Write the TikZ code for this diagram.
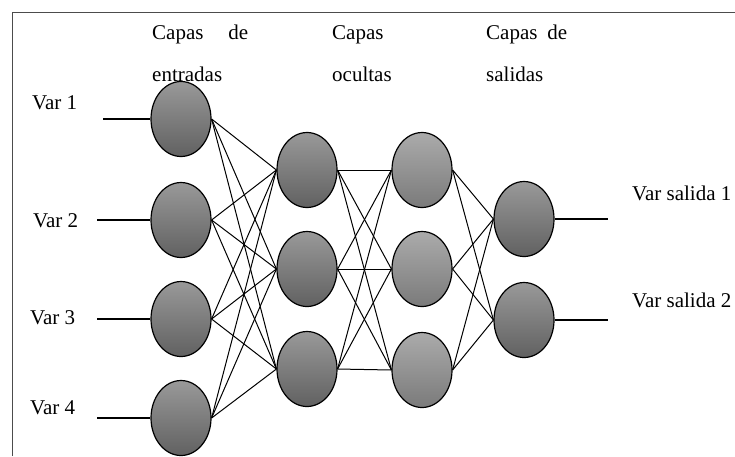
\documentclass[tikz,border=0pt]{standalone}
\usepackage{fontspec}
\setmainfont{Liberation Serif}
\usepackage{tikz}
\usetikzlibrary{shapes.geometric,positioning}

\begin{document}
\begin{tikzpicture}[x=1pt, y=-1pt,
    neuron/.style={draw, ellipse, line width=1.2pt, minimum width=60pt, minimum height=75pt, inner sep=0pt, top color=black!40, bottom color=black!62},
    neuronlight/.style={neuron, top color=black!33, bottom color=black!52},
    varlabel/.style={anchor=west, inner sep=0pt, font=\fontsize{21}{24}\selectfont},
    layerlabel/.style={anchor=north west, inner sep=0pt, align=left, font=\fontsize{21}{42}\selectfont},
    link/.style={line width=1pt},
    stub/.style={line width=1.8pt}]
    \useasboundingbox (0,0) rectangle (735,456);
    \draw[black!70, line width=0.8pt] (12,456) -- (12,12) -- (735,12);

    % layer headings
    \node[layerlabel] (hin) at (152,25) {\makebox[96pt][s]{Capas de}\\entradas};
    \node[layerlabel] (hhid) at (332,25) {Capas\\ocultas};
    \node[layerlabel] (hout) at (486,25) {\makebox[81pt][s]{Capas de}\\salidas};

    % input layer
    \node[neuron] (in1) at (181,119) {};
    \node[neuron] (in2) at (181,220) {};
    \node[neuron] (in3) at (181,319) {};
    \node[neuron] (in4) at (181,418) {};

    % hidden layers
    \node[neuron] (ha1) at (307,170) {};
    \node[neuron] (ha2) at (307,269) {};
    \node[neuron] (ha3) at (307,369) {};
    \node[neuronlight] (hb1) at (422,170) {};
    \node[neuronlight] (hb2) at (422,269) {};
    \node[neuronlight] (hb3) at (422,370) {};

    % output layer
    \node[neuron] (out1) at (524,219) {};
    \node[neuron] (out2) at (524,320) {};

    % input and output variables
    \node[varlabel] (v1) at (32,103) {Var 1};
    \node[varlabel] (v2) at (33,221) {Var 2};
    \node[varlabel] (v3) at (30,318) {Var 3};
    \node[varlabel] (v4) at (30,408) {Var 4};
    \node[varlabel] (vs1) at (632,193) {Var salida 1};
    \node[varlabel] (vs2) at (632,300) {Var salida 2};

    \coordinate (e1) at (103,119);
    \coordinate (e2) at (97,220);
    \coordinate (e3) at (97,319);
    \coordinate (e4) at (97,418);
    \coordinate (s1) at (608,219);
    \coordinate (s2) at (608,320);

    \foreach \i in {1,...,4} \draw[stub] (e\i) -- (in\i.west);
    \foreach \i in {1,2} \draw[stub] (out\i.east) -- (s\i);

    % connections
    \foreach \i in {1,...,4}
        \foreach \j in {1,2,3}
            \draw[link] (in\i.east) -- (ha\j.west);
    \foreach \i in {1,2,3}
        \foreach \j in {1,2,3}
            \draw[link] (ha\i.east) -- (hb\j.west);
    \foreach \i in {1,2,3}
        \foreach \j in {1,2}
            \draw[link] (hb\i.east) -- (out\j.west);
\end{tikzpicture}
\end{document}
